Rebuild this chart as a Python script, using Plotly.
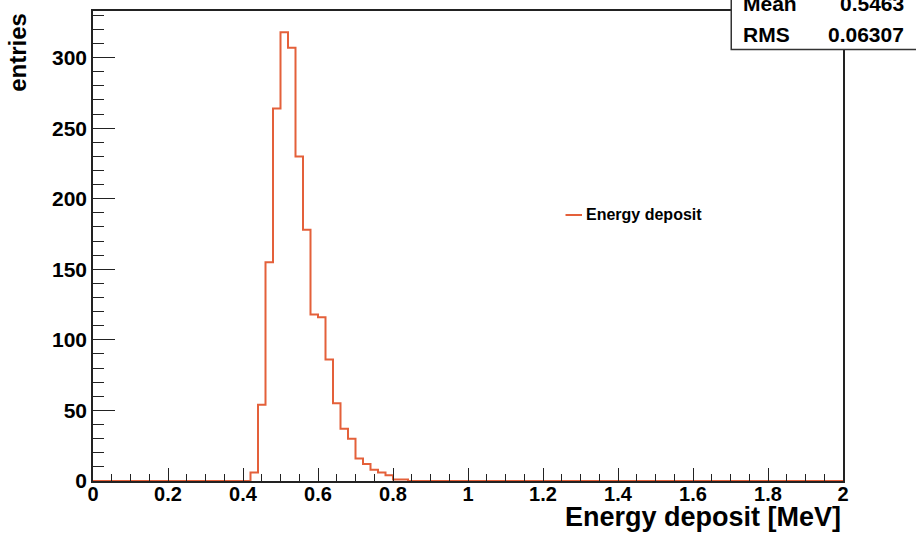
import numpy as np
import plotly.graph_objects as go

# Histogram: 100 bins from 0 to 2 MeV (bin width 0.02)
x_min, x_max, n_bins = 0.0, 2.0, 100
# Non-zero bins start at 0.42 MeV
first_bin_low = 0.42
counts_nonzero = [6, 54, 155, 264, 318, 307, 230, 178, 118, 116, 86, 55,
                  37, 30, 16, 12, 8, 6, 4, 1, 1]

stats_labels = ["Mean", "RMS"]
stats_values = ["0.5463", "0.06307"]
legend_label = "Energy deposit"

x_ticks = [0, 0.2, 0.4, 0.6, 0.8, 1, 1.2, 1.4, 1.6, 1.8, 2]
x_tick_text = ["0", "0.2", "0.4", "0.6", "0.8", "1", "1.2", "1.4", "1.6", "1.8", "2"]
y_ticks = [0, 50, 100, 150, 200, 250, 300]

edges = np.linspace(x_min, x_max, n_bins + 1)
counts = np.zeros(n_bins)
start = int(round((first_bin_low - x_min) / ((x_max - x_min) / n_bins)))
counts[start:start + len(counts_nonzero)] = counts_nonzero

xs = list(edges)
ys = list(counts) + [counts[-1]]

color = "#e4603a"
font = "Liberation Sans, Arial, Helvetica, sans-serif"

fig = go.Figure()
fig.add_trace(go.Scatter(x=xs, y=ys, mode="lines", line=dict(color=color, width=2, shape="hv"),
                         showlegend=False, hoverinfo="skip"))

fig.update_layout(
    width=916, height=533,
    margin=dict(l=93, r=73, t=9, b=52),
    paper_bgcolor="white", plot_bgcolor="white",
    font=dict(family=font, color="black"),
    xaxis=dict(range=[x_min, x_max], tickvals=x_ticks, ticktext=x_tick_text,
               ticks="inside", ticklen=13, tickwidth=1.2, tickcolor="#222",
               minor=dict(ticks="inside", ticklen=7, dtick=0.05, tickcolor="#222", tickwidth=1.2),
               showgrid=False, zeroline=False, showline=True, linecolor="#222", linewidth=1.5,
               mirror=True, ticklabelposition="outside", ticklabelstandoff=-6,
               tickfont=dict(size=20, family=font, weight="bold")),
    yaxis=dict(range=[0, 333], tickvals=y_ticks,
               ticks="inside", ticklen=22, tickwidth=1.2, tickcolor="#222",
               minor=dict(ticks="inside", ticklen=11, dtick=10, tickcolor="#222", tickwidth=1.2),
               showgrid=False, zeroline=False, showline=True, linecolor="#222", linewidth=1.5,
               mirror=True, tickfont=dict(size=21, family=font, weight="bold")),
)

# Axis titles (ROOT-style, right/top aligned)
fig.add_annotation(text="Energy deposit [MeV]", xref="paper", yref="paper", x=1.0, y=-0.076,
                   xanchor="right", yanchor="middle", showarrow=False,
                   font=dict(size=27, family=font, weight="bold"))
fig.add_annotation(text="entries", xref="paper", yref="paper", x=-0.101, y=1.0,
                   xanchor="center", yanchor="top", textangle=-90, showarrow=False,
                   font=dict(size=24, family=font, weight="bold"))

# Legend (no border)
fig.add_shape(type="line", xref="paper", yref="paper", x0=0.630, x1=0.652, y0=0.566, y1=0.566,
              line=dict(color=color, width=2))
fig.add_annotation(text=legend_label, xref="paper", yref="paper", x=0.655, y=0.566,
                   xanchor="left", yanchor="middle", showarrow=False,
                   font=dict(size=16, family=font, weight="bold"))

# Stats box (cut off at top/right)
fig.add_shape(type="rect", xref="paper", yref="paper", x0=0.851, x1=1.12, y0=0.918, y1=1.05,
              line=dict(color="#333", width=1.5), fillcolor="white", layer="above")
row_y = [1.017, 0.951]
for lab, val, yy in zip(stats_labels, stats_values, row_y):
    fig.add_annotation(text=lab, xref="paper", yref="paper", x=0.864, y=yy, xanchor="left",
                       yanchor="middle", showarrow=False, font=dict(size=21, family=font, weight="bold"))
    fig.add_annotation(text=val, xref="paper", yref="paper", x=1.084, y=yy, xanchor="right",
                       yanchor="middle", showarrow=False, font=dict(size=21, family=font, weight="bold"))

fig.write_html("out.html")
